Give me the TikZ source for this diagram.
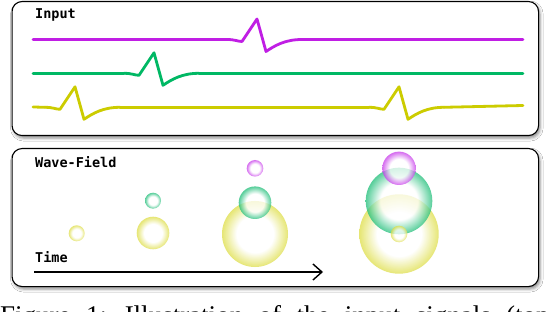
\documentclass[tikz,border=0pt]{standalone}
\usepackage{fontspec}
\newfontfamily\labfont{DejaVu Sans Mono}
\newfontfamily\capfont{Liberation Serif}
\usepackage{tikz}
\usetikzlibrary{arrows.meta, shadows.blur}

\definecolor{sigP}{RGB}{192,30,228}
\definecolor{sigG}{RGB}{0,184,100}
\definecolor{sigY}{RGB}{204,204,0}
\definecolor{bubP}{RGB}{200,60,235}
\definecolor{bubG}{RGB}{30,190,120}
\definecolor{bubY}{RGB}{222,222,70}

\pgfdeclareradialshading{glowP}{\pgfpoint{0bp}{0bp}}{color(0bp)=(white); color(14bp)=(white); color(25bp)=(bubP); color(50bp)=(bubP)}
\pgfdeclareradialshading{glowG}{\pgfpoint{0bp}{0bp}}{color(0bp)=(white); color(14bp)=(white); color(25bp)=(bubG); color(50bp)=(bubG)}
\pgfdeclareradialshading{glowY}{\pgfpoint{0bp}{0bp}}{color(0bp)=(white); color(14bp)=(white); color(25bp)=(bubY); color(50bp)=(bubY)}

\begin{document}
\begin{tikzpicture}[
  x=1pt, y=-1pt,
  panel/.style={draw, rounded corners=10pt, line width=1.1pt, fill=white,
    anchor=north west, inner sep=0pt,
    blur shadow={shadow xshift=1.5pt, shadow yshift=-2.5pt,
      shadow blur radius=3pt, shadow opacity=45}},
  lab/.style={font=\labfont\bfseries\fontsize{13.5}{16}\selectfont,
    anchor=base west, inner sep=0pt},
  capt/.style={font=\capfont\fontsize{27}{32}\selectfont,
    anchor=base west, inner sep=0pt},
  sig/.style={line width=2.8pt, line cap=round, line join=round},
  bub/.style={circle, inner sep=0pt, minimum size=#1, opacity=.75},
  timearrow/.style={line width=1.4pt, -{Straight Barb[length=9pt, width=16pt]}},
  spike/.pic={
    \draw[sig] (-30,0) .. controls (-22,0) and (-19,2) .. (-15,2)
      -- (0,-20.5) -- (9,12) .. controls (18,6) and (28,0) .. (45,0);
  },
]
  \fill[white] (0,0) rectangle (548,312);
  \useasboundingbox (0,0) rectangle (548,312);

  % panels
  \node[panel, minimum width=526.5pt, minimum height=134pt] (inpanel) at (11.5,1) {};
  \node[panel, minimum width=526.5pt, minimum height=138pt] (wfpanel) at (11.5,148) {};

  \node[lab] (inlab) at (35,18.5) {Input};
  \node[lab] (wflab) at (35,168) {Wave-Field};
  \node[lab] (tlab) at (35,262) {Time};

  % input signals
  \draw[sig, sigP] (33,39.5) -- (227,39.5);
  \pic[sigP] at (257,39.5) {spike};
  \draw[sig, sigP] (302,39.5) -- (523,39.5);

  \draw[sig, sigG] (33,73.3) -- (124,73.3);
  \pic[sigG] at (154,73.3) {spike};
  \draw[sig, sigG] (199,73.3) -- (523,73.3);

  \draw[sig, sigY] (33,107) -- (45,107.3);
  \pic[sigY] at (75,107.3) {spike};
  \draw[sig, sigY] (120,107.3) -- (369,107.3);
  \pic[sigY] at (399,107.3) {spike};
  \draw[sig, sigY] (444,107.3) -- (523,105.5);

  % wave-field
  \node[bub=16pt, shading=glowY] (y1) at (76.7,233.3) {};

  \node[bub=32.6pt, shading=glowY] (y2) at (153,233) {};
  \node[bub=16pt, shading=glowG] (g2) at (153,200.7) {};

  \node[bub=66pt, shading=glowY] (y3) at (255,234) {};
  \node[bub=32.6pt, shading=glowG] (g3) at (255,202.7) {};
  \node[bub=16.6pt, shading=glowP] (p3) at (255,168.3) {};

  \node[bub=79.4pt, shading=glowY] (y4) at (399,234) {};
  \node[bub=66.6pt, shading=glowG] (g4) at (399,201) {};
  \node[bub=33.4pt, shading=glowP] (p4) at (399,168.3) {};
  \node[bub=16.6pt, shading=glowY] (y4s) at (399,234) {};

  \coordinate (t0) at (34,272);
  \coordinate (t1) at (323,272);
  \draw[timearrow] (t0) -- (t1);

  % caption, cut off by the page
  \begin{scope}
    \clip (0,0) rectangle (548,312);
    \node[capt] (cap) at (0,324) {\spaceskip=15.4pt\relax Figure 1: Illustration of the input signals (top)};
  \end{scope}
\end{tikzpicture}
\end{document}
